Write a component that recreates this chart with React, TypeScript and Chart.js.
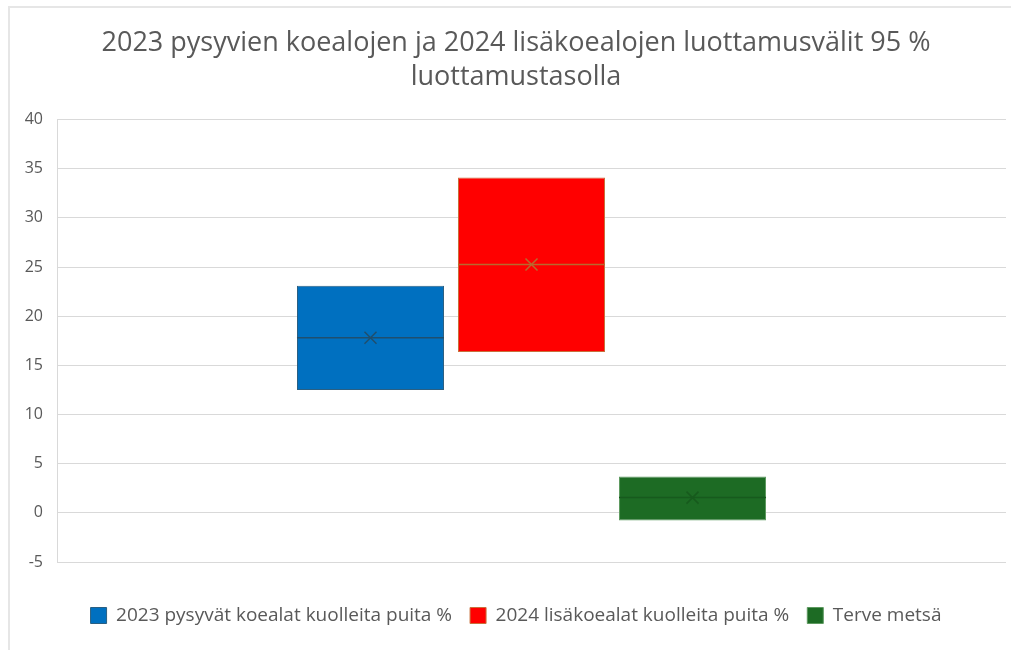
import React, { useEffect, useRef } from "react";
import { Chart, registerables } from "chart.js";

Chart.register(...registerables);

const titleLines = [
  "2023 pysyvien koealojen ja 2024 lisäkoealojen luottamusvälit 95 %",
  "luottamustasolla",
];
const categories = [""];
const seriesNames = [
  "2023 pysyvät koealat kuolleita puita %",
  "2024 lisäkoealat kuolleita puita %",
  "Terve metsä",
];
const lowValues = [12.5, 16.35, -0.77];
const highValues = [23.1, 34.1, 3.7];
const medianValues = [17.8, 25.25, 1.55];
const meanValues = [17.8, 25.25, 1.55];
const yMin = -5;
const yMax = 40;
const yStep = 5;

const fillColors = ["#0070C0", "#FF0000", "#1D6B24"];
const borderColors = ["#2A5F82", "#C8703C", "#5E9A60"];
const markColors = ["#1F4F6E", "#B8692E", "#175A1D"];

const FONT = "'Open Sans', 'Liberation Sans', sans-serif";

const boxMarks = {
  id: "boxMarks",
  afterDatasetsDraw(chart: any) {
    const ctx = chart.ctx;
    const y = chart.scales.y;
    chart.data.datasets.forEach((_ds: any, i: number) => {
      const meta = chart.getDatasetMeta(i);
      meta.data.forEach((bar: any) => {
        const p = bar.getProps(["x", "width"], true);
        const ym = y.getPixelForValue(medianValues[i]);
        ctx.save();
        ctx.strokeStyle = markColors[i];
        ctx.lineWidth = 1.5;
        ctx.beginPath();
        ctx.moveTo(p.x - p.width / 2, ym);
        ctx.lineTo(p.x + p.width / 2, ym);
        ctx.stroke();
        const yx = y.getPixelForValue(meanValues[i]);
        const s = 6;
        ctx.beginPath();
        ctx.moveTo(p.x - s, yx - s);
        ctx.lineTo(p.x + s, yx + s);
        ctx.moveTo(p.x + s, yx - s);
        ctx.lineTo(p.x - s, yx + s);
        ctx.stroke();
        ctx.restore();
      });
    });
  },
};

export default function App() {
  const ref = useRef<HTMLCanvasElement>(null);
  useEffect(() => {
    if (!ref.current) return;
    const chart = new Chart(ref.current, {
      type: "bar",
      data: {
        labels: categories,
        datasets: seriesNames.map((name, i) => ({
          label: name,
          data: categories.map(() => [lowValues[i], highValues[i]] as any),
          backgroundColor: fillColors[i],
          borderColor: borderColors[i],
          borderWidth: 1,
          borderSkipped: false,
          categoryPercentage: 0.509,
          barPercentage: 0.913,
        })),
      },
      options: {
        animation: false,
        responsive: false,
        maintainAspectRatio: false,
        layout: { padding: { left: 0, right: 0, top: 0, bottom: 15 } },
        scales: {
          x: {
            display: true,
            grid: { display: false },
            border: { display: false },
            ticks: { display: false },
            afterFit: (s: any) => {
              s.height = 26;
            },
          },
          y: {
            min: yMin,
            max: yMax,
            ticks: {
              stepSize: yStep,
              color: "#595959",
              font: { family: FONT, size: 16 },
              padding: 14,
            },
            grid: { color: "#D9D9D9", drawTicks: false, lineWidth: 1 },
            border: { display: true, color: "#D9D9D9" },
            afterFit: (s: any) => {
              s.width = 57;
            },
          },
          y2: {
            position: "right",
            display: true,
            ticks: { display: false },
            grid: { display: false },
            border: { display: false },
            afterFit: (s: any) => {
              s.width = 26;
            },
          },
        },
        plugins: {
          title: {
            display: true,
            text: titleLines,
            color: "#595959",
            font: { family: FONT, size: 27, weight: "normal", lineHeight: 1.26 },
            padding: { top: 26, bottom: 25.5 },
          },
          legend: {
            position: "bottom",
            labels: {
              color: "#595959",
              font: { family: FONT, size: 19 },
              boxWidth: 16,
              boxHeight: 16,
              padding: 18,
            },
          },
          tooltip: { enabled: false },
        },
      },
      plugins: [boxMarks],
    });
    return () => chart.destroy();
  }, []);

  return (
    <div
      style={{
        position: "fixed",
        left: 0,
        top: 0,
        width: 1011,
        height: 650,
        overflow: "hidden",
        background: "#fff",
      }}
    >
      <div
        style={{
          position: "absolute",
          left: 8,
          top: 6,
          width: 1100,
          height: 700,
          border: "2px solid #E6E6E6",
        }}
      />
      <canvas
        ref={ref}
        width={1032}
        height={650}
        style={{ position: "absolute", left: 0, top: 0, width: 1032, height: 650 }}
      />
    </div>
  );
}
